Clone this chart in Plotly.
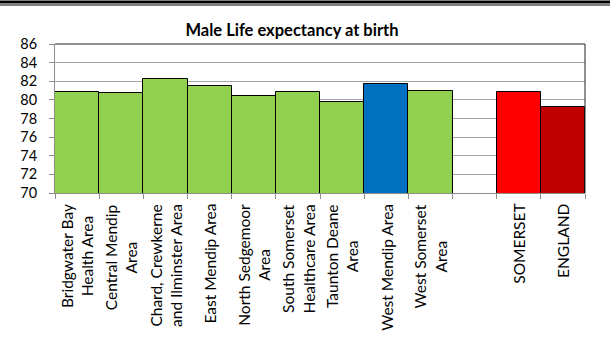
import plotly.graph_objects as go

# Male life expectancy at birth by area (years)
areas = [
    "Bridgwater Bay Health Area",
    "Central Mendip Area",
    "Chard, Crewkerne and Ilminster Area",
    "East Mendip Area",
    "North Sedgemoor Area",
    "South Somerset Healthcare Area",
    "Taunton Deane Area",
    "West Mendip Area",
    "West Somerset Area",
    " ",
    "SOMERSET",
    "ENGLAND",
]
axis_labels = [
    "Bridgwater Bay<br>Health Area",
    "Central Mendip<br>Area",
    "Chard, Crewkerne<br>and Ilminster Area",
    "East Mendip Area",
    "North Sedgemoor<br>Area",
    "South Somerset<br>Healthcare Area",
    "Taunton Deane<br>Area",
    "West Mendip Area",
    "West Somerset<br>Area",
    "",
    "SOMERSET",
    "ENGLAND",
]
life_expectancy = [80.8, 80.7, 82.2, 81.5, 80.4, 80.85, 79.8, 81.7, 81.0, None, 80.8, 79.2]
bar_colors = ["#92D050"] * 7 + ["#0070C0", "#92D050", "#FFFFFF", "#FF0000", "#C00000"]
y_ticks = [70, 72, 74, 76, 78, 80, 82, 84, 86]

FONT = "Lato"
W, H = 610, 338
L, R, T, B = 55, 25, 44, 145
plot_h = H - T - B
plot_w = W - L - R


def py(px):
    """Pixel row -> paper y."""
    return 1 + (T - px) / plot_h


fig = go.Figure(
    go.Bar(
        x=areas,
        y=life_expectancy,
        marker=dict(color=bar_colors, line=dict(color="#000000", width=1)),
        hoverinfo="x+y",
    )
)

for name, lab in zip(areas, axis_labels):
    if not lab:
        continue
    fig.add_annotation(
        x=name, y=py(202), xref="x", yref="paper",
        text=lab, textangle=-90, showarrow=False,
        xanchor="center", yanchor="top", align="center",
        font=dict(family=FONT, size=15.5, color="#000000"),
    )

# plot-area border on top and right
fig.add_shape(type="line", xref="paper", yref="paper", x0=0, x1=1, y0=1, y1=1,
              line=dict(color="#222222", width=1))
fig.add_shape(type="line", xref="paper", yref="paper", x0=1, x1=1, y0=0, y1=1,
              line=dict(color="#222222", width=1))

# page header rules (thick over thin)
x0p, x1p = -L / plot_w, 1 + R / plot_w
fig.add_shape(type="line", xref="paper", yref="paper", x0=x0p, x1=x1p, y0=py(2), y1=py(2),
              line=dict(color="#000000", width=3))
fig.add_shape(type="line", xref="paper", yref="paper", x0=x0p, x1=x1p, y0=py(5), y1=py(5),
              line=dict(color="#000000", width=1))

fig.update_layout(
    width=W, height=H,
    margin=dict(l=L, r=R, t=T, b=B, pad=0),
    paper_bgcolor="#FFFFFF", plot_bgcolor="#FFFFFF",
    bargap=0,
    showlegend=False,
    title=dict(
        text="<b>Male Life expectancy at birth</b>",
        x=292 / W, xanchor="center", y=1 - 30 / H, yanchor="middle",
        font=dict(family=FONT, size=16.5, color="#000000"),
    ),
    xaxis=dict(
        type="category", categoryorder="array", categoryarray=areas,
        showticklabels=False, showgrid=False, zeroline=False,
        showline=True, linecolor="#8C8C8C", linewidth=1,
        ticks="outside", tickson="boundaries", ticklen=5, tickcolor="#8C8C8C",
    ),
    yaxis=dict(
        range=[70, 86], tickvals=y_ticks,
        showgrid=True, gridcolor="#A6A6A6", gridwidth=1, zeroline=False,
        showline=True, linecolor="#8C8C8C", linewidth=1,
        ticks="outside", ticklen=5, tickcolor="#8C8C8C", ticklabelstandoff=9,
        tickfont=dict(family=FONT, size=14.5, color="#000000"),
    ),
)

fig.write_html("out.html", config={"displayModeBar": False})
